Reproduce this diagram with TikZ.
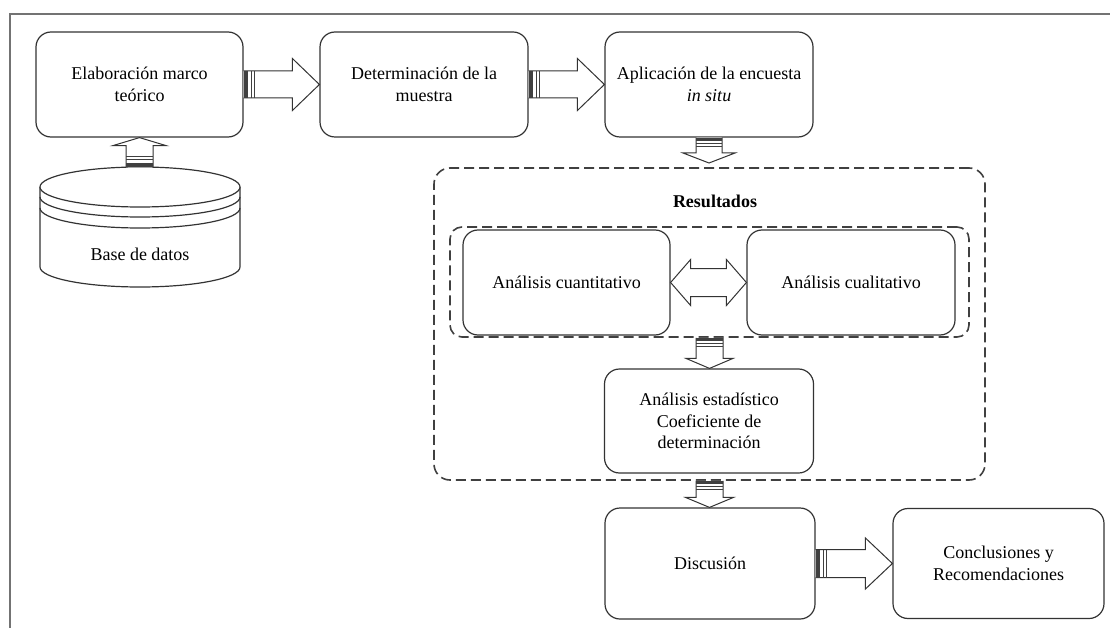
\documentclass[tikz,border=0pt]{standalone}
\usepackage{fontspec}
\setmainfont{Liberation Serif}
\usetikzlibrary{calc}
\tikzset{
 box/.style={draw=black!80, line width=1.2pt, rounded corners=15pt, fill=white, align=center, inner sep=0pt},
 dashbox/.style={draw=black!75, line width=1.6pt, dash pattern=on 10pt off 5pt, rounded corners=16pt, inner sep=0pt},
 blockarr/.style={draw=black!80, line width=1pt, fill=white, line join=miter},
 stripefill/.style={fill=black!75},
 stripeline/.style={draw=black!75, line width=1pt},
 frame/.style={draw=black!55, line width=2pt},
 lbl/.style={align=center, inner sep=0pt}
}
% right-pointing block arrow: tail #1, tip #2, head length #3, shaft half #4, head half #5
\newcommand\arrR[5]{%
 \draw[blockarr] let \p1=(#1), \p2=(#2) in
  (\x1,\y1+#4pt) -- (\x2-#3pt,\y1+#4pt) -- (\x2-#3pt,\y1+#5pt) -- (\x2,\y1) -- (\x2-#3pt,\y1-#5pt) -- (\x2-#3pt,\y1-#4pt) -- (\x1,\y1-#4pt);
 \fill[stripefill] let \p1=(#1) in (\x1,\y1-#4pt) rectangle (\x1+4pt,\y1+#4pt);
 \draw[stripeline] let \p1=(#1) in (\x1+8pt,\y1-#4pt) -- (\x1+8pt,\y1+#4pt) (\x1+11pt,\y1-#4pt) -- (\x1+11pt,\y1+#4pt);
}
% downward block arrow
\newcommand\arrD[5]{%
 \draw[blockarr] let \p1=(#1), \p2=(#2) in
  (\x1-#4pt,\y1) -- (\x1-#4pt,\y2+#3pt) -- (\x1-#5pt,\y2+#3pt) -- (\x1,\y2) -- (\x1+#5pt,\y2+#3pt) -- (\x1+#4pt,\y2+#3pt) -- (\x1+#4pt,\y1);
 \fill[stripefill] let \p1=(#1) in (\x1-#4pt,\y1) rectangle (\x1+#4pt,\y1-3pt);
 \draw[stripeline] let \p1=(#1) in (\x1-#4pt,\y1-6pt) -- (\x1+#4pt,\y1-6pt) (\x1-#4pt,\y1-9pt) -- (\x1+#4pt,\y1-9pt);
}
% upward block arrow
\newcommand\arrU[5]{%
 \draw[blockarr] let \p1=(#1), \p2=(#2) in
  (\x1-#4pt,\y1) -- (\x1-#4pt,\y2-#3pt) -- (\x1-#5pt,\y2-#3pt) -- (\x1,\y2) -- (\x1+#5pt,\y2-#3pt) -- (\x1+#4pt,\y2-#3pt) -- (\x1+#4pt,\y1);
 \fill[stripefill] let \p1=(#1) in (\x1-#4pt,\y1) rectangle (\x1+#4pt,\y1+4pt);
 \draw[stripeline] let \p1=(#1) in (\x1-#4pt,\y1+8pt) -- (\x1+#4pt,\y1+8pt) (\x1-#4pt,\y1+11pt) -- (\x1+#4pt,\y1+11pt);
}
% double block arrow between left tip #1 and right tip #2
\newcommand\arrLR[5]{%
 \draw[blockarr] let \p1=(#1), \p2=(#2) in
  (\x1,\y1) -- (\x1+#3pt,\y1+#5pt) -- (\x1+#3pt,\y1+#4pt) -- (\x2-#3pt,\y1+#4pt) -- (\x2-#3pt,\y1+#5pt) -- (\x2,\y1) -- (\x2-#3pt,\y1-#5pt) -- (\x2-#3pt,\y1-#4pt) -- (\x1+#3pt,\y1-#4pt) -- (\x1+#3pt,\y1-#5pt) -- cycle;
}
\begin{document}
\begin{tikzpicture}[x=1pt,y=-1pt, font=\fontsize{18}{21.5}\selectfont]
\useasboundingbox (0,0) rectangle (1110,628);
\fill[white] (0,0) rectangle (1110,628);
\draw[frame] (10,628) -- (10,14) -- (1110,14);

% dashed groups
\node[dashbox, minimum width=551pt, minimum height=312pt] (res) at (709.5,324) {};
\node[lbl, font=\fontsize{18}{21.5}\selectfont\bfseries] (restitle) at (715,201) {Resultados};
\node[dashbox, rounded corners=12pt, minimum width=519pt, minimum height=110pt] (inner) at (709.5,282) {};

% boxes
\node[box, minimum width=207pt, minimum height=105pt] (b1) at (139.5,84.5) {Elaboración marco\\teórico};
\node[box, minimum width=208pt, minimum height=105pt] (b2) at (424,84.5) {Determinación de la\\muestra};
\node[box, minimum width=208pt, minimum height=105pt] (b3) at (709,84.5) {Aplicación de la encuesta\\\textit{in situ}};
\node[box, minimum width=207pt, minimum height=105pt] (cuant) at (566.5,282.5) {Análisis cuantitativo};
\node[box, minimum width=208pt, minimum height=105pt] (cual) at (851,282.5) {Análisis cualitativo};
\node[box, minimum width=209pt, minimum height=104pt] (est) at (709,421) {Análisis estadístico\\Coeficiente de\\determinación};
\node[box, minimum width=210pt, minimum height=111pt] (disc) at (710,563.5) {Discusión};
\node[box, minimum width=211pt, minimum height=110pt] (concl) at (998.5,563.5) {Conclusiones y\\Recomendaciones};

% database cylinder
\draw[box, rounded corners=0pt] (40,187) -- (40,267) arc[start angle=180, end angle=0, x radius=100, y radius=20] -- (240,187);
\draw[box, rounded corners=0pt] (140,187) ellipse [x radius=100, y radius=20];
\draw[draw=black!80, line width=1.2pt] (40,197) arc[start angle=180, end angle=0, x radius=100, y radius=20];
\draw[draw=black!80, line width=1.2pt] (40,208) arc[start angle=180, end angle=0, x radius=100, y radius=20];
\node[lbl] (db) at (140,254) {Base de datos};
\coordinate (dbtop) at (139.5,167.5);
\coordinate (b3tip) at (709,163);

% connectors
\arrR{b1.east}{b2.west}{27}{13.5}{26}
\arrR{b2.east}{b3.west}{27}{13.5}{26}
\arrR{disc.east}{concl.west}{27}{14}{25.5}
\arrU{dbtop}{b1.south}{8}{13.5}{26.5}
\arrD{b3.south}{b3tip}{10}{13}{26}
\arrD{inner.south}{est.north}{10}{13.5}{23.5}
\arrD{res.south}{disc.north}{10}{13.5}{24}
\arrLR{cuant.east}{cual.west}{20}{14}{23}
\end{tikzpicture}
\end{document}
